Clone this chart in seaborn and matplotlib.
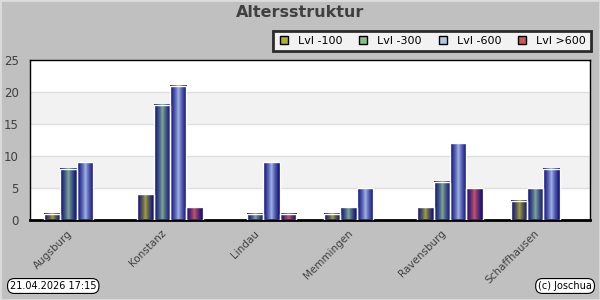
import numpy as np
import pandas as pd
import matplotlib
matplotlib.use("Agg")
import matplotlib.pyplot as plt
import matplotlib.colors as mcolors
import matplotlib.transforms as mtransforms
from matplotlib.patches import Rectangle
from matplotlib.lines import Line2D
import seaborn as sns

# ---- data ----
cities = ["Augsburg", "Konstanz", "Lindau", "Memmingen", "Ravensburg", "Schaffhausen"]
levels = ["Lvl -100", "Lvl -300", "Lvl -600", "Lvl >600"]
lvl_100 = [1, 4, 0, 1, 2, 3]
lvl_300 = [8, 18, 1, 2, 6, 5]
lvl_600 = [9, 21, 9, 5, 12, 8]
lvl_600p = [0, 2, 1, 0, 5, 0]
yticks = [0, 5, 10, 15, 20, 25]
title = "Altersstruktur"
stamp_left = "21.04.2026 17:15"
stamp_right = "(c) Joschua"

legend_colors = ["#b0b030", "#88c088", "#b0c8e0", "#d05858"]
center_colors = ["#a8a838", "#84b094", "#a8bce8", "#cc5a6a"]
edge_navy = "#08087a"

rows = []
for lvl, vals in zip(levels, [lvl_100, lvl_300, lvl_600, lvl_600p]):
    for c, v in zip(cities, vals):
        rows.append({"city": c, "level": lvl, "value": v})
df = pd.DataFrame(rows)

sns.set_style("white")
plt.rcParams["font.family"] = ["DejaVu Sans"]

fig = plt.figure(figsize=(6, 3), dpi=100, facecolor="#c0c0c0")
ax = fig.add_axes([30/600, 80/300, 560/600, 160/300])
ax.set_facecolor("white")

sns.barplot(data=df, x="city", y="value", hue="level", order=cities,
            hue_order=levels, palette=legend_colors, width=0.7,
            edgecolor="white", linewidth=1, ax=ax, legend=False, zorder=2)

# gradient fill per bar
xs = np.linspace(-1, 1, 64)
t = np.abs(xs) ** 0.75
c1 = np.array(mcolors.to_rgb(edge_navy))
for lvl_idx, cont in enumerate(ax.containers):
    c0 = np.array(mcolors.to_rgb(center_colors[lvl_idx]))
    grad = (1 - t)[:, None] * c0 + t[:, None] * c1
    img = grad[None, :, :]
    for p in cont.patches:
        h = p.get_height()
        if h <= 0:
            p.set_visible(False)
            continue
        x0 = p.get_x()
        w = p.get_width()
        ax.imshow(img, extent=[x0, x0 + w, 0, h], aspect="auto", zorder=2.5,
                  interpolation="bilinear")
        p.set_facecolor("none")
        p.set_zorder(3)

# bands
for lo, hi in [(5, 10), (15, 20)]:
    ax.axhspan(lo, hi, color="#f2f2f2", zorder=0, lw=0)
for y in [5, 10, 15, 20]:
    ax.axhline(y, color="#dedede", lw=1, zorder=0.5)

ax.set_xlim(-0.5, len(cities) - 0.5)
ax.set_ylim(0, 25)
ax.set_yticks(yticks)
ax.set_xlabel("")
ax.set_ylabel("")
ax.tick_params(axis="both", length=0, colors="#404040", labelsize=8.5)
ax.tick_params(axis="y", pad=8)
ax.tick_params(axis="x", pad=6)
for lab in ax.get_xticklabels():
    lab.set_rotation(45)
    lab.set_ha("right")
    lab.set_rotation_mode("anchor")
    lab.set_fontsize(7.5)
    lab.set_transform(lab.get_transform() + mtransforms.ScaledTranslation(-9/100, 0, fig.dpi_scale_trans))
for s in ["left", "top", "right"]:
    ax.spines[s].set_color("black")
    ax.spines[s].set_linewidth(1)
ax.spines["bottom"].set_color("black")
ax.spines["bottom"].set_linewidth(2)

fig.text(0.5, 1 - 12.5/300, title, ha="center", va="center", fontsize=11.5,
         fontweight="bold", color="#404040")

handles = [Line2D([], [], marker="s", linestyle="none", markersize=5.5,
                  markerfacecolor=c, markeredgecolor="black", markeredgewidth=1)
           for c in legend_colors]
leg = fig.legend(handles, levels, loc="center right", ncol=4,
                 bbox_to_anchor=(591/600, 1 - 41/300), frameon=True,
                 fancybox=False, fontsize=8, handletextpad=0.75,
                 columnspacing=1.4, borderpad=0.45, handlelength=1.0,
                 borderaxespad=0)
leg.get_frame().set_edgecolor("black")
leg.get_frame().set_linewidth(2)
leg.get_frame().set_facecolor("white")
for t_ in leg.get_texts():
    t_.set_color("black")

box = dict(boxstyle="round,pad=0.25,rounding_size=0.7", fc="white", ec="black", lw=0.8)
fig.text(10/600, 1 - 286/300, stamp_left, ha="left", va="center", fontsize=7,
         color="black", bbox=box)
fig.text(592/600, 1 - 286/300, stamp_right, ha="right", va="center", fontsize=7,
         color="black", bbox=box)

fig.patches.append(Rectangle((0, 0), 1, 1, transform=fig.transFigure, fill=False,
                             ec="#dcdcdc", lw=2, zorder=10))

fig.savefig("out.png", dpi=100, facecolor=fig.get_facecolor())
